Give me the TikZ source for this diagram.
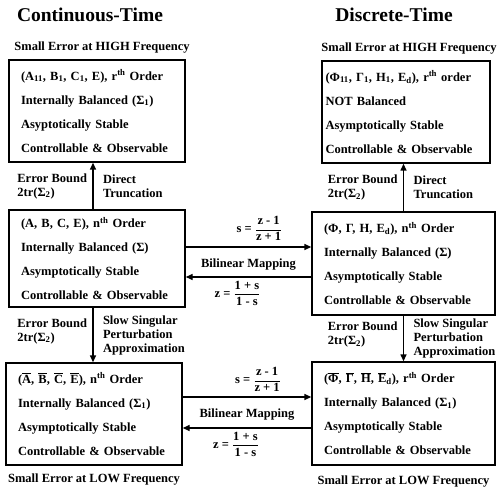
\documentclass[tikz,border=0pt]{standalone}
\usepackage{fontspec}
\setmainfont{Liberation Serif}
\usetikzlibrary{arrows.meta,positioning}
\newcommand{\barred}[1]{$\overline{\hbox{#1}}$}
\newcommand{\ratio}[2]{$\displaystyle\frac{\hbox{#1}}{\hbox{#2}}$}

\begin{document}
\begin{tikzpicture}[
    x=1pt, y=-1pt,
    box/.style={draw, line width=1.4pt, inner xsep=12pt, inner ysep=0pt, text width=#1, font=\bfseries\fontsize{12.5}{24}\selectfont, align=left},
    arr/.style={-{Triangle[length=7pt, width=6pt]}, line width=1.4pt},
    lbl/.style={font=\bfseries\fontsize{12.5}{14}\selectfont, align=left},
    note/.style={font=\bfseries\fontsize{12.5}{14}\selectfont},
    title/.style={font=\bfseries\fontsize{19.5}{22}\selectfont},
  ]
  \useasboundingbox (0,0) rectangle (498,489);

  \node[title] (cont) at (90,15) {Continuous-Time};
  \node[title] (disc) at (394,15) {Discrete-Time};

  % continuous-time column
  \node[box=152pt, minimum height=102pt] (TL) at (97,111) {(A\textsubscript{11}, B\textsubscript{1}, C\textsubscript{1}, E), r\textsuperscript{th} Order\\Internally Balanced (Σ\textsubscript{1})\\Asyptotically Stable\\Controllable \& Observable};
  \node[box=152pt, minimum height=97pt] (ML) at (97,258.5) {(A, B, C, E), n\textsuperscript{th} Order\\Internally Balanced (Σ)\\Asymptotically Stable\\Controllable \& Observable};
  \node[box=152pt, minimum height=102pt] (BL) at (94,414) {(\barred{A}, \barred{B}, \barred{C}, \barred{E}), n\textsuperscript{th} Order\\Internally Balanced (Σ\textsubscript{1})\\Asymptotically Stable\\Controllable \& Observable};

  % discrete-time column
  \node[box=161pt, inner xsep=3.5pt, minimum height=102pt] (TR) at (406,112) {(Φ\textsubscript{11}, Γ\textsubscript{1}, H\textsubscript{1}, E\textsubscript{d}), r\textsuperscript{th} order\\NOT Balanced\\Asymptotically Stable\\Controllable \& Observable};
  \node[box=159pt, minimum height=103pt] (MR) at (403.5,263.5) {(Φ, Γ, H, E\textsubscript{d}), n\textsuperscript{th} Order\\Internally Balanced (Σ)\\Asymptotically Stable\\Controllable \& Observable};
  \node[box=159pt, minimum height=103pt] (BR) at (403.5,413.5) {(\barred{Φ}, \barred{Γ}, \barred{H}, \barred{E}\textsubscript{d}), r\textsuperscript{th} Order\\Internally Balanced (Σ\textsubscript{1})\\Asymptotically Stable\\Controllable \& Observable};

  \node[note, above=3pt of TL, xshift=5pt] (hiC) {Small Error at HIGH Frequency};
  \node[note, above=3pt of TR, xshift=3pt] (hiD) {Small Error at HIGH Frequency};
  \node[note, below=5pt of BL] (loC) {Small Error at LOW Frequency};
  \node[note, below=7pt of BR] (loD) {Small Error at LOW Frequency};

  % truncation
  \draw[arr] ([xshift=-4pt]ML.north) -- ([xshift=-4pt]ML.north |- TL.south)
    node[lbl, midway, left=2pt] {Error Bound\\2tr(Σ\textsubscript{2})}
    node[lbl, midway, right=6pt] {Direct\\Truncation};
  \draw[arr] (MR.north) -- (MR.north |- TR.south)
    node[lbl, midway, left=2pt] {Error Bound\\2tr(Σ\textsubscript{2})}
    node[lbl, midway, right=6pt] {Direct\\Truncation};

  % singular perturbation
  \draw[arr] ([xshift=-4pt]ML.south) -- ([xshift=-4pt]ML.south |- BL.north)
    node[lbl, midway, left=2pt, yshift=4pt] {Error Bound\\2tr(Σ\textsubscript{2})}
    node[lbl, midway, right=6pt] {Slow Singular\\Perturbation\\Approximation};
  \draw[arr] (MR.south) -- (MR.south |- BR.north)
    node[lbl, midway, left=2pt, yshift=4pt] {Error Bound\\2tr(Σ\textsubscript{2})}
    node[lbl, midway, right=6pt] {Slow Singular\\Perturbation\\Approximation};

  % bilinear mappings
  \draw[arr] ([yshift=11.5pt]ML.east) -- ([yshift=11.5pt]ML.east -| MR.west)
    node[lbl, midway, above=2pt, xshift=11pt] {s = \ratio{z - 1}{z + 1}}
    node[lbl, midway, below=8pt] {Bilinear Mapping};
  \draw[arr] ([yshift=-18.5pt]ML.east -| MR.west) -- ([yshift=-18.5pt]ML.east)
    node[lbl, midway, below=0pt, xshift=-11pt] {z = \ratio{1 + s}{1 - s}};
  \draw[arr] ([yshift=17pt]BL.east) -- ([yshift=17pt]BL.east -| BR.west)
    node[lbl, midway, above=1pt, xshift=11pt] {s = \ratio{z - 1}{z + 1}}
    node[lbl, midway, below=8pt] {Bilinear Mapping};
  \draw[arr] ([yshift=-14pt]BL.east -| BR.west) -- ([yshift=-14pt]BL.east)
    node[lbl, midway, below=0pt, xshift=-11pt] {z = \ratio{1 + s}{1 - s}};
\end{tikzpicture}
\end{document}
